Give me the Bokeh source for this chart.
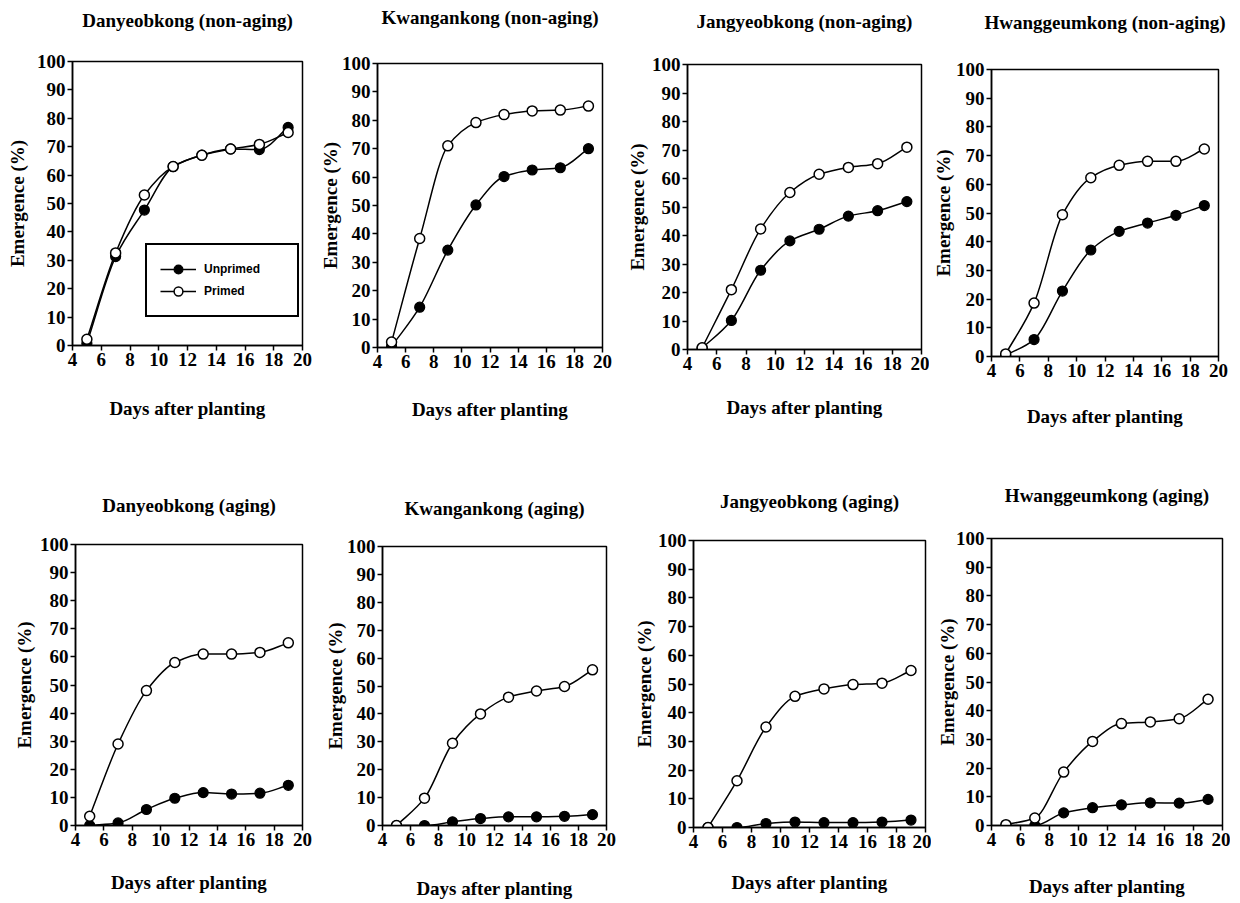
import numpy as np
from bokeh.plotting import figure
from bokeh.layouts import column, row
from bokeh.models import Range1d, FixedTicker, Legend, LegendItem, LinearAxis, ColumnDataSource
from bokeh.embed import file_html
from bokeh.resources import INLINE

# ---------------- data ----------------
days = [5, 7, 9, 11, 13, 15, 17, 19]
x_ticks = [4, 6, 8, 10, 12, 14, 16, 18, 20]
y_ticks = [0, 10, 20, 30, 40, 50, 60, 70, 80, 90, 100]

titles = [
    "Danyeobkong (non-aging)", "Kwangankong (non-aging)",
    "Jangyeobkong (non-aging)", "Hwanggeumkong (non-aging)",
    "Danyeobkong (aging)", "Kwangankong (aging)",
    "Jangyeobkong (aging)", "Hwanggeumkong (aging)",
]
x_label = "Days after planting"
y_label = "Emergence (%)"
series_names = ["Unprimed", "Primed"]

danyeob_non_unprimed = [0.8, 31.3, 47.7, 63.0, 67.0, 69.2, 69.0, 76.8]
danyeob_non_primed = [2.2, 32.6, 53.0, 63.0, 67.0, 69.2, 70.8, 75.0]
kwangan_non_unprimed = [0.4, 14.2, 34.3, 50.2, 60.2, 62.5, 63.3, 70.0]
kwangan_non_primed = [1.9, 38.4, 71.0, 79.2, 82.0, 83.3, 83.6, 85.0]
jangyeob_non_unprimed = [0.5, 10.2, 27.8, 38.1, 42.2, 46.8, 48.7, 51.9]
jangyeob_non_primed = [0.6, 21.0, 42.3, 55.1, 61.5, 63.9, 65.2, 71.0]
hwanggeum_non_unprimed = [0.4, 5.9, 22.8, 37.1, 43.6, 46.5, 49.2, 52.6]
hwanggeum_non_primed = [0.9, 18.6, 49.4, 62.3, 66.6, 68.0, 68.0, 72.3]

danyeob_age_unprimed = [0.0, 0.9, 5.7, 9.7, 11.7, 11.2, 11.5, 14.3]
danyeob_age_primed = [3.3, 29.0, 48.0, 58.0, 61.0, 61.0, 61.6, 65.0]
kwangan_age_unprimed = [0.0, 0.0, 1.3, 2.5, 3.1, 3.1, 3.3, 3.9]
kwangan_age_primed = [0.0, 9.8, 29.5, 40.0, 46.0, 48.2, 49.8, 55.8]
jangyeob_age_unprimed = [0.0, 0.0, 1.4, 1.9, 1.7, 1.7, 1.9, 2.6]
jangyeob_age_primed = [0.0, 16.3, 35.0, 45.7, 48.3, 49.8, 50.3, 54.7]
hwanggeum_age_unprimed = [0.0, 0.0, 4.4, 6.2, 7.2, 7.9, 7.8, 9.1]
hwanggeum_age_primed = [0.3, 2.6, 18.6, 29.3, 35.5, 36.1, 37.2, 44.0]

unprimed_sets = [danyeob_non_unprimed, kwangan_non_unprimed, jangyeob_non_unprimed, hwanggeum_non_unprimed,
                 danyeob_age_unprimed, kwangan_age_unprimed, jangyeob_age_unprimed, hwanggeum_age_unprimed]
primed_sets = [danyeob_non_primed, kwangan_non_primed, jangyeob_non_primed, hwanggeum_non_primed,
               danyeob_age_primed, kwangan_age_primed, jangyeob_age_primed, hwanggeum_age_primed]

# ---------------- layout constants (px) ----------------
# (border_left, frame_w, border_right, border_top, frame_h, border_bottom,
#  title_standoff, xlabel_standoff, ylabel_standoff)
LAYOUT = [
    (72, 230, 10, 61, 284, 87, 31, 29, 6),
    (65, 225, 14, 63, 284, 85, 36, 28, -2),
    (71, 234, 8, 64, 285, 83, 33, 24, 1),
    (61, 228, 10, 69, 287, 76, 37, 26, -1),
    (75, 227, 12, 112, 281, 76, 29, 23, 2),
    (68, 224, 10, 114, 282, 73, 28, 29, -2),
    (77, 232, 6, 108, 287, 74, 29, 21, 0),
    (60, 231, 8, 106, 287, 76, 33, 27, -5),
]

SERIF = "Liberation Serif"
FS = "19px"


def smooth_segments(x, y):
    """Smoothed connecting curve through the measured points (monotone cubic,
    drawn as Bezier segments between consecutive points)."""
    x = np.asarray(x, float)
    y = np.asarray(y, float)
    h = np.diff(x)
    d = np.diff(y) / h
    n = len(x)
    m = np.zeros(n)
    m[0], m[-1] = d[0], d[-1]
    for k in range(1, n - 1):
        if d[k - 1] * d[k] <= 0:
            m[k] = 0.0
        else:
            w1 = 2 * h[k] + h[k - 1]
            w2 = h[k] + 2 * h[k - 1]
            m[k] = (w1 + w2) / (w1 / d[k - 1] + w2 / d[k])
    return ColumnDataSource(dict(
        x0=x[:-1], y0=y[:-1], x1=x[1:], y1=y[1:],
        cx0=x[:-1] + h / 3, cy0=y[:-1] + m[:-1] * h / 3,
        cx1=x[1:] - h / 3, cy1=y[1:] - m[1:] * h / 3,
    ))


def style_text(ax):
    ax.major_label_text_font = SERIF
    ax.major_label_text_font_size = FS
    ax.major_label_text_font_style = "bold"
    ax.major_label_text_color = "black"
    ax.axis_label_text_font = SERIF
    ax.axis_label_text_font_size = FS
    ax.axis_label_text_font_style = "bold"
    ax.axis_label_text_color = "black"


def make_panel(i):
    bl, fw, br, bt, fh, bb, tst, xst, yst = LAYOUT[i]
    p = figure(width=bl + fw + br, height=bt + fh + bb,
               min_border_left=bl, min_border_right=br,
               min_border_top=bt, min_border_bottom=bb,
               x_range=Range1d(4, 20), y_range=Range1d(0, 100),
               output_backend="svg", toolbar_location=None, tools="")
    p.frame_align = False

    p.grid.visible = False
    p.outline_line_color = "black"
    p.outline_line_width = 1.5
    p.outline_line_alpha = 1
    p.background_fill_color = "white"
    p.border_fill_color = "white"

    p.xaxis.ticker = FixedTicker(ticks=x_ticks)
    p.yaxis.ticker = FixedTicker(ticks=y_ticks)
    p.xaxis.axis_label = x_label
    p.yaxis.axis_label = y_label
    p.xaxis.axis_label_standoff = xst
    p.yaxis.axis_label_standoff = yst
    for ax in (p.xaxis[0], p.yaxis[0]):
        ax.minor_tick_line_color = None
        ax.major_tick_in = 0
        ax.major_tick_out = 5
        ax.major_tick_line_width = 1.5
        ax.major_tick_line_color = "black"
        ax.axis_line_width = 1.5
        ax.axis_line_color = "black"
        ax.major_label_standoff = 2
        style_text(ax)

    # panel title: an axis above the frame that only carries a label
    tax = LinearAxis(ticker=FixedTicker(ticks=[]), axis_label=titles[i],
                     axis_line_color=None, major_tick_line_color=None,
                     minor_tick_line_color=None, major_tick_in=0, major_tick_out=0,
                     minor_tick_in=0, minor_tick_out=0,
                     major_label_standoff=0, axis_label_standoff=tst)
    style_text(tax)
    p.add_layout(tax, "above")

    lu = p.bezier(x0="x0", y0="y0", x1="x1", y1="y1", cx0="cx0", cy0="cy0",
                  cx1="cx1", cy1="cy1", source=smooth_segments(days, unprimed_sets[i]),
                  line_color="black", line_width=1.5)
    lp = p.bezier(x0="x0", y0="y0", x1="x1", y1="y1", cx0="cx0", cy0="cy0",
                  cx1="cx1", cy1="cy1", source=smooth_segments(days, primed_sets[i]),
                  line_color="black", line_width=1.5)
    su = p.scatter(days, unprimed_sets[i], marker="circle", size=10,
                   fill_color="black", line_color="black", line_width=1.2)
    sp = p.scatter(days, primed_sets[i], marker="circle", size=10,
                   fill_color="white", line_color="black", line_width=1.5)

    if i == 0:
        legend = Legend(items=[LegendItem(label=series_names[0], renderers=[lu, su]),
                               LegendItem(label=series_names[1], renderers=[lp, sp])],
                        location=(73, 28), padding=13, spacing=0,
                        label_height=22, glyph_height=22, glyph_width=36,
                        label_width=80, label_standoff=8, margin=0,
                        border_line_color="black", border_line_width=2,
                        border_line_alpha=1,
                        background_fill_color="white", background_fill_alpha=1,
                        label_text_font="Liberation Sans", label_text_font_style="bold",
                        label_text_font_size="12px", label_text_color="black")
        p.add_layout(legend)
    return p


panels = [make_panel(i) for i in range(8)]
layout = column(row(*panels[:4]), row(*panels[4:]))

open("out.html", "w").write(file_html(layout, INLINE))
